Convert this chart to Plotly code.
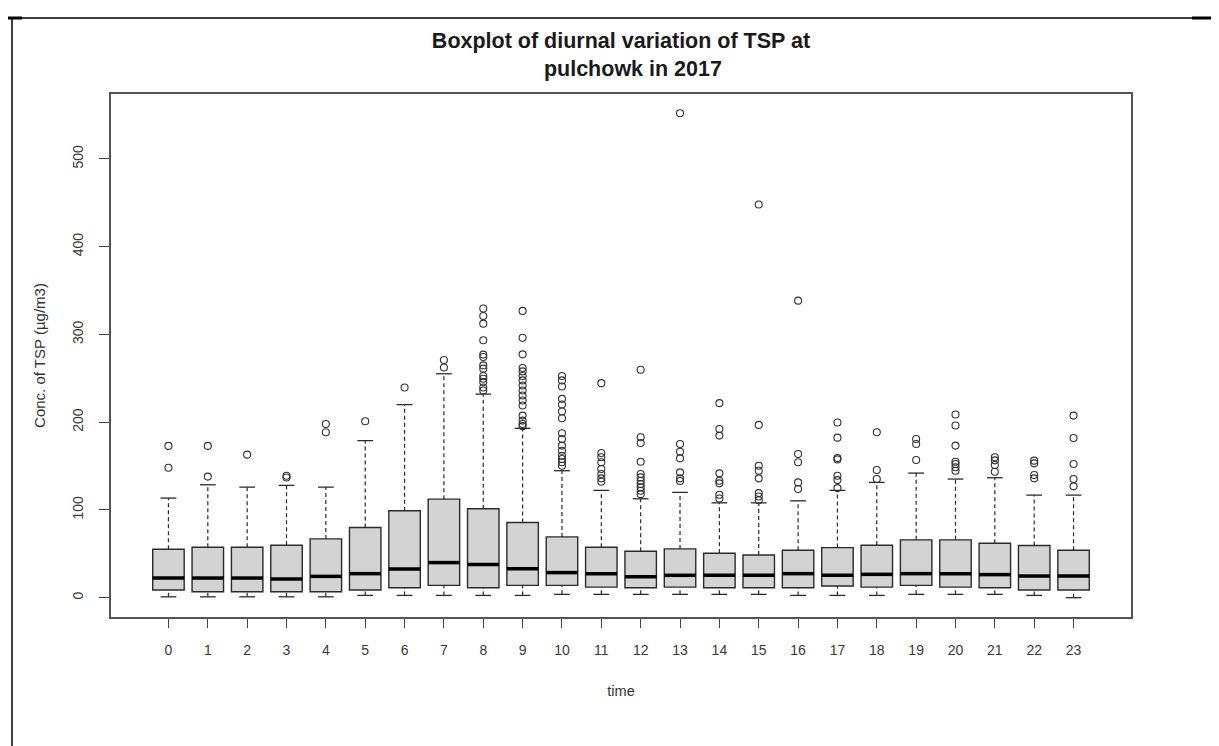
import plotly.graph_objects as go

# ---- data ----
hours = list(range(24))
lower_whisker = [1, 1, 1, 1, 1, 2.6, 2.6, 2.6, 2.6, 2.6, 3.8, 3.8, 3.8, 3.8, 3.8, 3.8,
                 2.6, 2.6, 2.6, 3.8, 3.8, 3.8, 2.6, 0]
q1 = [8.7, 6.8, 6.8, 6.8, 6.8, 8.7, 11.4, 14, 11.4, 14, 14, 12.1, 11.4, 12.1, 11.4, 11.4,
      11.4, 13.3, 12.1, 14, 12.1, 11.4, 8.7, 8.7]
median = [22.4, 22.4, 22.4, 21.3, 24.3, 27.4, 32.7, 40, 37.7, 33.1, 28.6, 27.4, 24, 25.5,
          25.5, 25.5, 27.4, 25.5, 26.6, 27.4, 27.4, 26.3, 24.7, 24.7]
q3 = [55.2, 57.5, 57.5, 59.8, 67, 80, 99, 112.3, 101.3, 85.7, 69.3, 57.5, 52.9, 55.6, 50.6,
      48.7, 54.1, 57.1, 59.8, 65.9, 65.9, 62.1, 59.4, 54.1]
upper_whisker = [113.5, 128.7, 126, 128, 126, 179, 220, 255.2, 232, 193, 144.7, 122.3, 112.7,
                 120, 108.1, 108.1, 110.4, 122.3, 131.4, 142, 135.2, 136.7, 116.9, 116.9]
outliers = [
    [148, 173],
    [138, 173],
    [163],
    [137, 139],
    [188.5, 198],
    [201],
    [239.6],
    [262.4, 270.8],
    [329.5, 321, 312.3, 293.3, 277, 274.3, 264.7, 261, 252.6, 249.5, 245.7, 239.6, 236.1],
    [326.8, 296.3, 277.3, 261.7, 257.9, 252.6, 247.6, 241.8, 236.1, 230.4, 224.7, 219,
     207.5, 201.8, 198, 195.5],
    [252.6, 247.6, 240.7, 226.6, 220.1, 212.1, 204.5, 187.4, 180.9, 173.3, 167.5, 161.8,
     158, 154.3, 150.4],
    [244.5, 164.9, 160, 154.3, 146.6, 140.9, 136, 132.1],
    [259.8, 182.8, 176.3, 155, 140.9, 137.1, 133.3, 129.5, 125.7, 121.8, 118],
    [552, 175.2, 166.4, 158.8, 142.8, 136, 133],
    [221.7, 192.3, 184.7, 141.7, 133.3, 130.3, 117.3, 113.1],
    [448, 196.9, 150.4, 144.7, 136, 119.2, 115.4, 111],
    [338.5, 163.8, 154.3, 131.4, 123.8],
    [199.6, 182.4, 159.2, 157.6, 139, 134, 124.9],
    [188.5, 145.5, 135.2],
    [180.9, 175.2, 156.9],
    [208.7, 196.2, 173.3, 155, 152.4, 148.6, 144.7],
    [160, 156.5, 151.2, 143.6],
    [156.2, 153.1, 139.8, 136],
    [207.5, 182, 152.4, 135.2, 126.9],
]
y_ticks = [0, 100, 200, 300, 400, 500]

# ---- styles ----
BOX_W = 0.8
CAP_HALF = BOX_W / 4
MED_HALF = BOX_W / 2
LINE = "#2b2b2b"
FONT = "Liberation Sans, Arial, sans-serif"

fig = go.Figure()

# dashed whiskers
wx, wy = [], []
for h, lo, a, b, hi in zip(hours, lower_whisker, q1, q3, upper_whisker):
    wx += [h, h, None, h, h, None]
    wy += [lo, a, None, b, hi, None]
fig.add_trace(go.Scatter(x=wx, y=wy, mode="lines",
                         line=dict(color=LINE, width=1.2, dash="4px,3px"),
                         hoverinfo="skip", showlegend=False))

# whisker caps (staples)
cx, cy = [], []
for h, lo, hi in zip(hours, lower_whisker, upper_whisker):
    cx += [h - CAP_HALF, h + CAP_HALF, None, h - CAP_HALF, h + CAP_HALF, None]
    cy += [lo, lo, None, hi, hi, None]
fig.add_trace(go.Scatter(x=cx, y=cy, mode="lines",
                         line=dict(color=LINE, width=1.3),
                         hoverinfo="skip", showlegend=False))

# boxes
fig.add_trace(go.Box(x=hours, q1=q1, median=median, q3=q3,
                     lowerfence=q1, upperfence=q3,
                     width=BOX_W, whiskerwidth=0,
                     fillcolor="#d3d3d3",
                     line=dict(color=LINE, width=1.4),
                     boxpoints=False, showlegend=False, hoverinfo="skip"))

# thick medians
mx, my = [], []
for h, m in zip(hours, median):
    mx += [h - MED_HALF, h + MED_HALF, None]
    my += [m, m, None]
fig.add_trace(go.Scatter(x=mx, y=my, mode="lines",
                         line=dict(color="#000000", width=3.5),
                         hoverinfo="skip", showlegend=False))

# outliers
ox, oy = [], []
for h, vals in zip(hours, outliers):
    for v in vals:
        ox.append(h)
        oy.append(v)
fig.add_trace(go.Scatter(x=ox, y=oy, mode="markers",
                         marker=dict(symbol="circle-open", size=7,
                                     color="#333333", line=dict(width=1.1)),
                         hoverinfo="skip", showlegend=False))

# the page body has an 8px margin, so the figure starts at (8, 8)
OFF = 8
W, H = 1219 - OFF, 746 - OFF
L, R, T, B = 111 - OFF, 88, 94 - OFF, 129
pw, ph = W - L - R, H - T - B


def px_to_paper_x(px):
    return (px - OFF - L) / pw


def px_to_paper_y(py):
    return (H - B - (py - OFF)) / ph


frame = dict(type="line", xref="paper", yref="paper", line=dict(color="#000", width=1.5))
shapes = [
    dict(frame, x0=px_to_paper_x(12), x1=px_to_paper_x(12), y0=px_to_paper_y(18), y1=px_to_paper_y(746)),
    dict(frame, x0=px_to_paper_x(12), x1=px_to_paper_x(1200), y0=px_to_paper_y(18), y1=px_to_paper_y(18)),
    dict(frame, x0=px_to_paper_x(8), x1=px_to_paper_x(22), y0=px_to_paper_y(18), y1=px_to_paper_y(18),
         line=dict(color="#000", width=3)),
    dict(frame, x0=px_to_paper_x(1192), x1=px_to_paper_x(1219), y0=px_to_paper_y(18), y1=px_to_paper_y(18),
         line=dict(color="#000", width=3)),
]

fig.update_layout(
    width=W, height=H,
    margin=dict(l=L, r=R, t=T, b=B),
    paper_bgcolor="white", plot_bgcolor="white",
    font=dict(family=FONT, color="#333333", size=14),
    title=dict(text="<b>Boxplot of diurnal variation of TSP at<br>\u00a0\u00a0\u00a0\u00a0pulchowk in 2017</b>",
               x=0.5, xref="paper", xanchor="center",
               y=1 - 40 / H, yanchor="top",
               font=dict(family=FONT, size=21.5, color="#1a1a1a")),
    shapes=shapes,
    showlegend=False,
)

fig.update_xaxes(
    range=[-1.46, 24.46], tickmode="array", tickvals=hours,
    ticktext=[str(h) for h in hours],
    ticks="outside", ticklen=9, tickcolor="#444", tickwidth=1,
    ticklabelstandoff=10,
    showgrid=False, zeroline=False,
    showline=True, linecolor="#555", linewidth=1.5, mirror=True,
    title=dict(text="time", standoff=29, font=dict(size=14.5)),
    tickfont=dict(size=14, color="#3a3a3a"),
)
fig.update_yaxes(
    range=[-22, 574], tickmode="array", tickvals=y_ticks,
    ticks="outside", ticklen=10, tickcolor="#444", tickwidth=1,
    tickangle=-90, ticklabelstandoff=11,
    showgrid=False, zeroline=False,
    showline=True, linecolor="#555", linewidth=1.5, mirror=True,
    title=dict(text="Conc. of TSP (µg/m3)", standoff=20, font=dict(size=15)),
    tickfont=dict(size=14, color="#3a3a3a"),
)

fig.write_html("out.html")
